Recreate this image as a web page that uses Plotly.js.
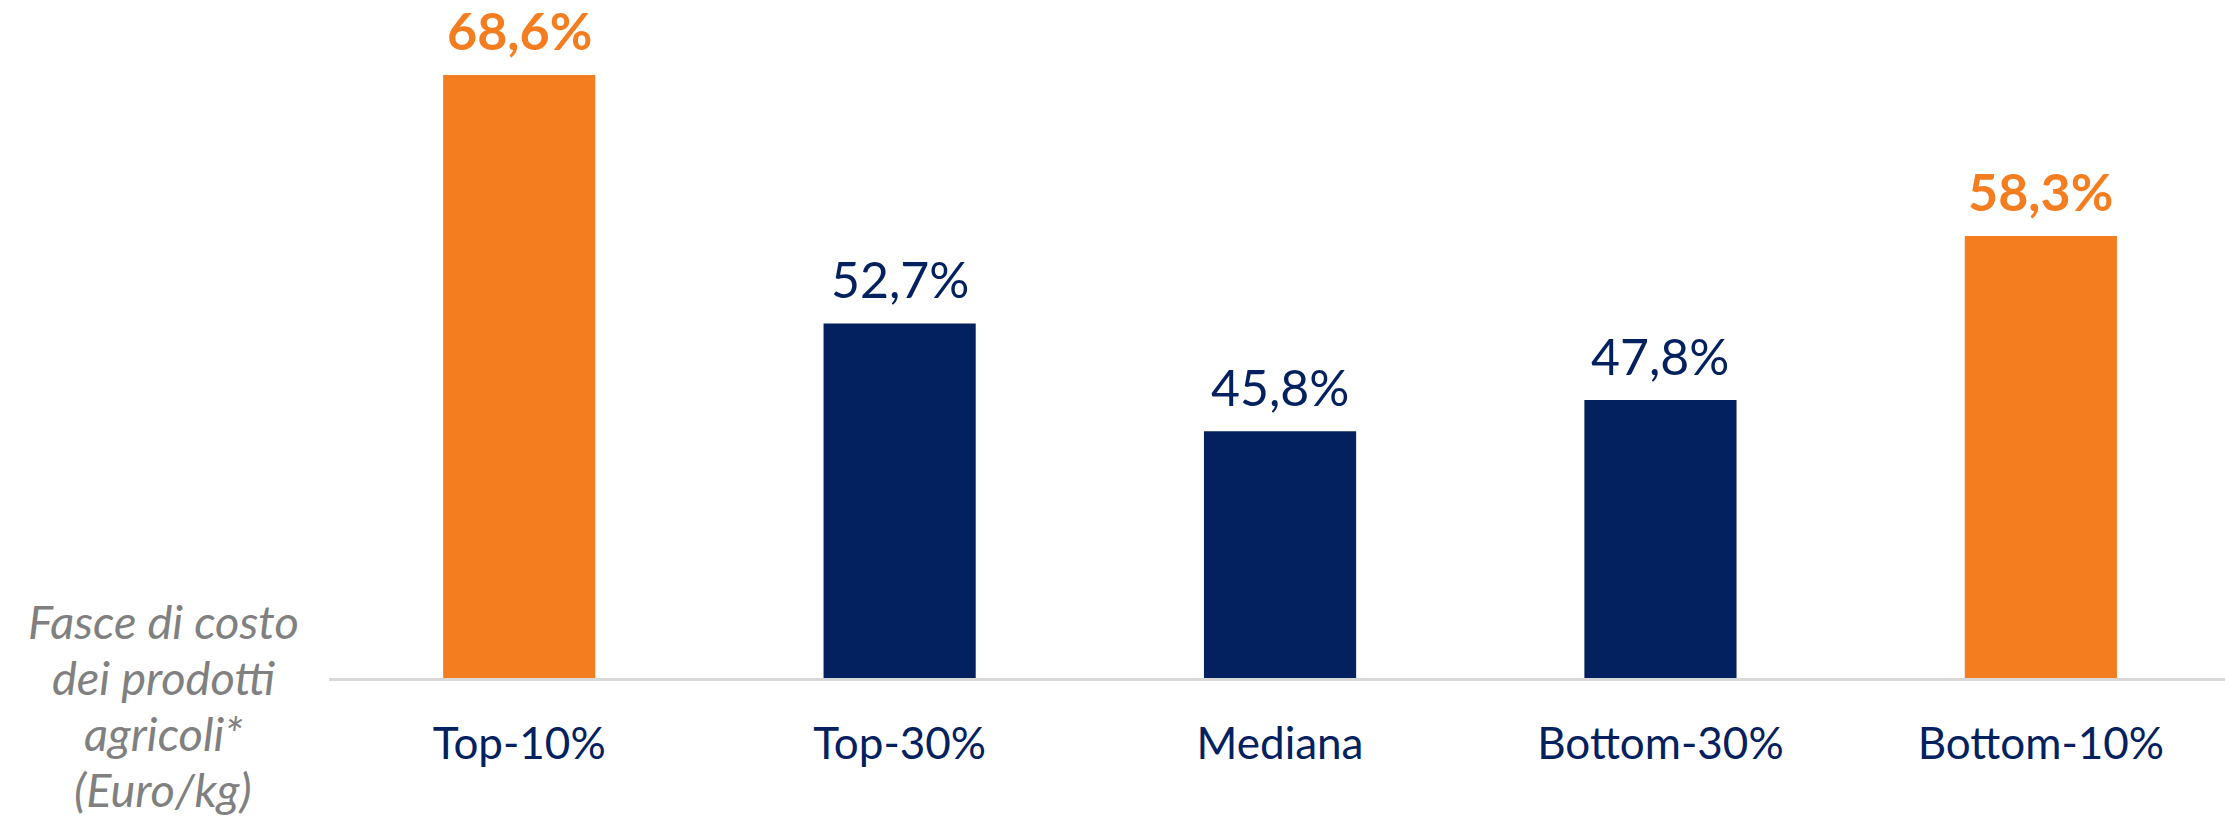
<!DOCTYPE html>
<html><head><meta charset="utf-8">
<script src="https://cdn.plot.ly/plotly-3.0.1.min.js"></script>
<style>html,body{margin:0;padding:0;background:#fff;}#chart{width:2225px;height:820px;}</style>
</head><body><div id="chart"></div>
<script>
const categories = ["Top-10%", "Top-30%", "Mediana", "Bottom-30%", "Bottom-10%"];
const values = [68.6, 52.7, 45.8, 47.8, 58.3];
const highlighted = [true, false, false, false, true];
const axisTitleLines = ["Fasce di costo", "dei prodotti", "agricoli*", "(Euro/kg)"];

const ORANGE = "#F47D20";
const NAVY = "#03205F";
const FONT = "Lato, 'Open Sans', sans-serif";

const colors = highlighted.map(h => h ? ORANGE : NAVY);
const fmt = v => v.toFixed(1).replace('.', ',') + '%';

const annotations = values.map((v, i) => ({
  x: categories[i], y: v, xref: 'x', yref: 'y',
  text: highlighted[i] ? '<b>' + fmt(v) + '</b>' : fmt(v),
  showarrow: false, xanchor: 'center', yanchor: 'bottom', yshift: 12,
  font: {family: FONT, size: highlighted[i] ? 52 : 50, color: colors[i]}
}));
axisTitleLines.forEach((line, k) => {
  annotations.push({
    xref: 'paper', yref: 'paper', x: (163 - 329) / 1896,
    y: (678 - (621 + 56 * k)) / 678,
    text: '<i>' + line + '</i>', showarrow: false, xanchor: 'center', yanchor: 'middle',
    borderpad: 0,
    font: {family: FONT, size: 47, color: '#808080'}
  });
});

const trace = {
  type: 'bar', x: categories, y: values,
  marker: {color: colors},
  hoverinfo: 'none'
};

const layout = {
  width: 2225, height: 820,
  margin: {l: 329, r: 0, t: 0, b: 142},
  paper_bgcolor: '#fff', plot_bgcolor: '#fff',
  bargap: 0.6,
  showlegend: false,
  xaxis: {
    range: [-0.5, 4.484], showgrid: false, zeroline: false,
    showline: true, linecolor: '#D9D9D9', linewidth: 3,
    ticks: 'outside', ticklen: 25, tickcolor: 'rgba(0,0,0,0)',
    tickfont: {family: FONT, size: 44, color: NAVY}
  },
  yaxis: {
    range: [30, 73.4], visible: false, showgrid: false, zeroline: false
  },
  annotations: annotations
};

Plotly.newPlot('chart', [trace], layout, {displayModeBar: false, staticPlot: true});
</script></body></html>
